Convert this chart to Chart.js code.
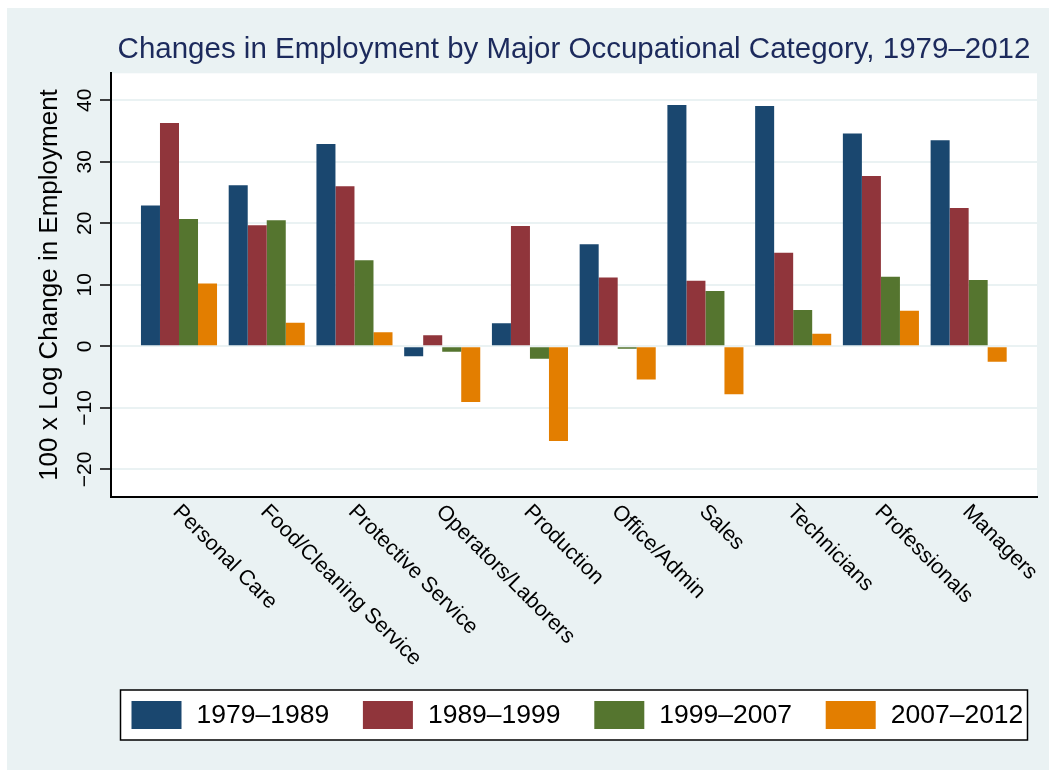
<!DOCTYPE html>
<html><head><meta charset="utf-8">
<script src="https://cdn.jsdelivr.net/npm/chart.js@4/dist/chart.umd.min.js"></script>
<style>html,body{margin:0;padding:0;background:#fff;overflow:hidden;}</style>
</head><body>
<canvas id="c" width="1049" height="770"></canvas>
<script>
const categories = ['Personal Care','Food/Cleaning Service','Protective Service','Operators/Laborers','Production','Office/Admin','Sales','Technicians','Professionals','Managers'];
const seriesLabels = ['1979\u20131989','1989\u20131999','1999\u20132007','2007\u20132012'];
const v1979_1989 = [22.9, 26.2, 32.9, -1.6, 3.75, 16.6, 39.25, 39.1, 34.6, 33.5];
const v1989_1999 = [36.3, 19.7, 26.05, 1.8, 19.55, 11.2, 10.67, 15.2, 27.7, 22.5];
const v1999_2007 = [20.7, 20.5, 14.0, -0.87, -2.0, -0.38, 9.0, 5.9, 11.3, 10.8];
const v2007_2012 = [10.2, 3.85, 2.3, -9.05, -15.4, -5.4, -7.8, 2.06, 5.8, -2.5];
const yTicks = [-20, -10, 0, 10, 20, 30, 40];

const seriesValues = [v1979_1989, v1989_1999, v1999_2007, v2007_2012];
const colors = ['#1a476f', '#90353b', '#55752f', '#e37e00'];
const FONT = "'Liberation Sans', Arial, Helvetica, sans-serif";

const bgPlugin = {
  id: 'bg',
  beforeDraw(chart) {
    const {ctx, chartArea: a} = chart;
    ctx.save();
    ctx.fillStyle = '#ffffff'; ctx.fillRect(0, 0, chart.width, chart.height);
    ctx.fillStyle = '#eaf2f3'; ctx.fillRect(7, 8, chart.width - 7, chart.height - 8);
    ctx.fillStyle = '#ffffff'; ctx.fillRect(a.left, a.top, a.right - a.left, a.bottom - a.top);
    ctx.restore();
  }
};

const xLabelPlugin = {
  id: 'xlabels',
  afterDraw(chart) {
    const {ctx, chartArea: a} = chart;
    const xs = chart.scales.x;
    ctx.save();
    ctx.font = '21.5px ' + FONT;
    ctx.fillStyle = '#000';
    ctx.textAlign = 'left';
    ctx.textBaseline = 'alphabetic';
    categories.forEach((lab, i) => {
      const x = xs.getPixelForValue(i);
      ctx.save();
      ctx.translate(x - 7, a.bottom + 16);
      ctx.rotate(Math.PI / 4);
      ctx.fillText(lab, 0, 0);
      ctx.restore();
    });
    ctx.restore();
  }
};

const legendPlugin = {
  id: 'boxLegend',
  afterDraw(chart) {
    const {ctx, chartArea: a} = chart;
    const cx = (a.left + a.right) / 2;
    const boxW = 907, boxTop = 690, boxH = 50;
    const left = cx - boxW / 2;
    ctx.save();
    ctx.fillStyle = '#fff'; ctx.fillRect(left, boxTop, boxW, boxH);
    ctx.strokeStyle = '#000'; ctx.lineWidth = 1.5; ctx.strokeRect(left, boxTop, boxW, boxH);
    ctx.font = '26.5px ' + FONT;
    ctx.textBaseline = 'middle';
    ctx.textAlign = 'left';
    chart.data.datasets.forEach((ds, k) => {
      const sx = left + 11 + k * 231.4;
      ctx.fillStyle = ds.backgroundColor; ctx.fillRect(sx, boxTop + 11, 50, 28);
      ctx.fillStyle = '#000'; ctx.fillText(ds.label, sx + 65, boxTop + 26);
    });
    ctx.restore();
  }
};

new Chart(document.getElementById('c'), {
  type: 'bar',
  data: {
    datasets: seriesLabels.map((lab, k) => ({
      label: lab,
      data: seriesValues[k].map((v, i) => ({x: i, y: v})),
      backgroundColor: colors[k],
      borderWidth: 0,
      categoryPercentage: 0.867,
      barPercentage: 1
    }))
  },
  options: {
    responsive: false,
    animation: false,
    devicePixelRatio: 1,
    layout: {padding: {left: 7, right: 12, top: 8, bottom: 263.3}},
    plugins: {
      legend: {display: false},
      tooltip: {enabled: false},
      title: {
        display: true,
        text: 'Changes in Employment by Major Occupational Category, 1979\u20132012',
        fullSize: false,
        align: 'center',
        color: '#1c2a5c',
        font: {family: FONT, size: 29.5, weight: 'normal', lineHeight: 1.2},
        padding: {top: 24.3, bottom: 5.6}
      }
    },
    scales: {
      x: {
        type: 'linear',
        offset: false,
        min: -0.775,
        max: 9.779,
        grid: {display: false, offset: false},
        border: {display: true, color: '#000', width: 2},
        ticks: {display: false},
        afterBuildTicks: s => { s.ticks = categories.map((_, i) => ({value: i})); },
        afterFit: s => { s.height = 10; }
      },
      y: {
        min: -24.45,
        max: 44.4,
        afterBuildTicks: s => { s.ticks = yTicks.map(v => ({value: v})); },
        afterFit: s => { s.width = 104; },
        grid: {color: '#eaf2f3', lineWidth: 2, drawTicks: true, tickLength: 11, tickColor: '#000', tickWidth: 1.5},
        border: {display: true, color: '#000', width: 2},
        ticks: {
          minRotation: 90, maxRotation: 90, crossAlign: 'center', padding: -3.3,
          color: '#000', font: {family: FONT, size: 21},
          callback: v => v < 0 ? '\u2212' + Math.abs(v) : String(v)
        },
        title: {
          display: true,
          text: '100 x Log Change in Employment',
          color: '#000',
          font: {family: FONT, size: 26},
          padding: {top: 27.4, bottom: 0}
        }
      }
    }
  },
  plugins: [bgPlugin, xLabelPlugin, legendPlugin]
});
</script>
</body></html>
